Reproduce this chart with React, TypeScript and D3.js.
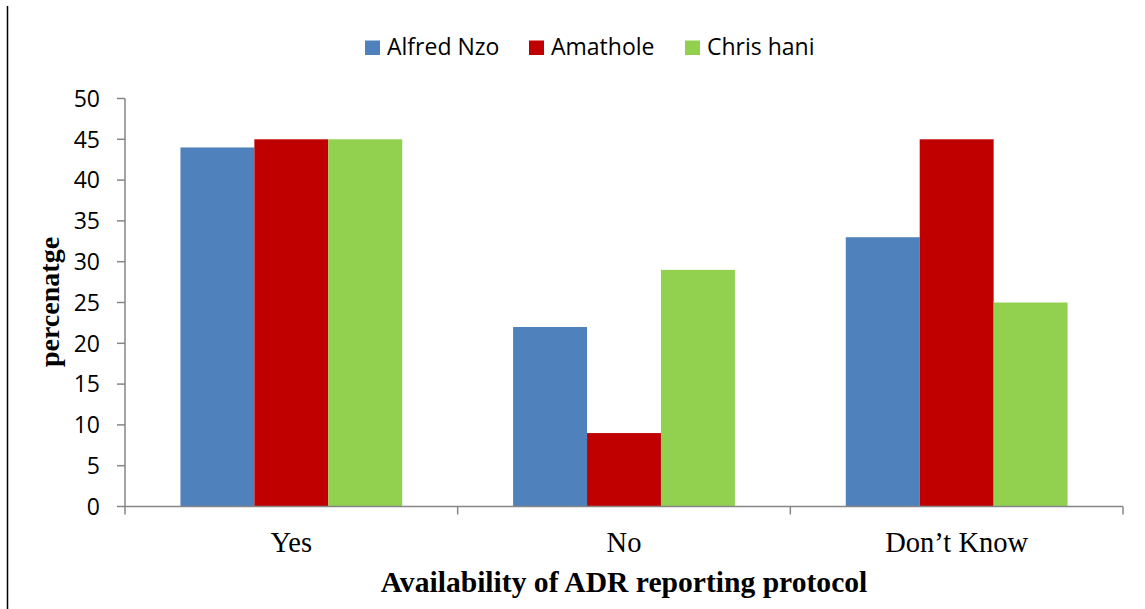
import React from "react";
import * as d3 from "d3";

const categories = ["Yes", "No", "Don\u2019t Know"];
const seriesNames = ["Alfred Nzo", "Amathole", "Chris hani"];
const alfredNzo = [44, 22, 33];
const amathole = [45, 9, 45];
const chrisHani = [45, 29, 25];
const seriesValues = [alfredNzo, amathole, chrisHani];
const seriesColors = ["#4F81BD", "#C00000", "#92D050"];
const yTicks = [0, 5, 10, 15, 20, 25, 30, 35, 40, 45, 50];

const W = 1145;
const H = 609;
const left = 125;
const right = 1123;
const top = 98.5;
const bottom = 506.5;
const axisColor = "#868686";
const sans = "'Open Sans', 'Liberation Sans', sans-serif";
const serif = "'Liberation Serif', 'Times New Roman', serif";

export default function App() {
  const x = d3.scaleBand<string>().domain(categories).range([left, right]).paddingInner(0).paddingOuter(0);
  const xs = d3
    .scaleBand<string>()
    .domain(seriesNames)
    .range([0, x.bandwidth()])
    .paddingInner(0)
    .paddingOuter(0.75);
  const y = d3.scaleLinear().domain([0, 50]).range([bottom, top]);

  const catBoundaries = [...categories.map((c) => x(c) as number), right];
  const legendItems = [
    { sq: 365, tx: 387 },
    { sq: 529, tx: 551 },
    { sq: 685, tx: 707 },
  ];

  return (
    <svg
      width={W}
      height={H}
      style={{ position: "absolute", left: 0, top: 0, background: "#fff" }}
    >
      <rect x={0} y={0} width={W} height={H} fill="#fff" />
      <line x1={7.5} x2={7.5} y1={6} y2={H} stroke="#000" strokeWidth={1.5} />

      {seriesNames.map((s, i) => (
        <g key={s}>
          <rect x={legendItems[i].sq} y={40.5} width={15} height={14.5} fill={seriesColors[i]} />
          <text x={legendItems[i].tx} y={55} fontFamily={sans} fontSize={23} fill="#000">
            {s}
          </text>
        </g>
      ))}

      {seriesNames.map((s, si) =>
        categories.map((c, ci) => {
          const v = seriesValues[si][ci];
          const bx = (x(c) as number) + (xs(s) as number);
          return (
            <rect
              key={s + c}
              x={bx}
              y={y(v)}
              width={xs.bandwidth()}
              height={bottom - y(v)}
              fill={seriesColors[si]}
            />
          );
        })
      )}

      <line x1={left} x2={left} y1={top} y2={bottom} stroke={axisColor} strokeWidth={1.5} />
      {yTicks.map((t) => (
        <g key={t}>
          <line x1={117} x2={left} y1={y(t)} y2={y(t)} stroke={axisColor} strokeWidth={1.5} />
          <text
            x={100}
            y={y(t)}
            dy="0.36em"
            textAnchor="end"
            fontFamily={sans}
            fontSize={23}
            fill="#000"
          >
            {t}
          </text>
        </g>
      ))}

      <line x1={left} x2={right} y1={bottom} y2={bottom} stroke={axisColor} strokeWidth={1.5} />
      {catBoundaries.map((b, i) => (
        <line key={i} x1={b} x2={b} y1={bottom} y2={bottom + 8} stroke={axisColor} strokeWidth={1.5} />
      ))}
      {categories.map((c) => (
        <text
          key={c}
          x={(x(c) as number) + x.bandwidth() / 2}
          y={552}
          textAnchor="middle"
          fontFamily={serif}
          fontSize={28.5}
          fill="#000"
        >
          {c}
        </text>
      ))}

      <text
        x={(left + right) / 2}
        y={592}
        textAnchor="middle"
        fontFamily={serif}
        fontWeight="bold"
        fontSize={29.6}
        fill="#000"
      >
        Availability of ADR reporting protocol
      </text>
      <text
        transform={`translate(59, 302) rotate(-90)`}
        textAnchor="middle"
        fontFamily={serif}
        fontWeight="bold"
        fontSize={28}
        fill="#000"
      >
        percenatge
      </text>
    </svg>
  );
}
